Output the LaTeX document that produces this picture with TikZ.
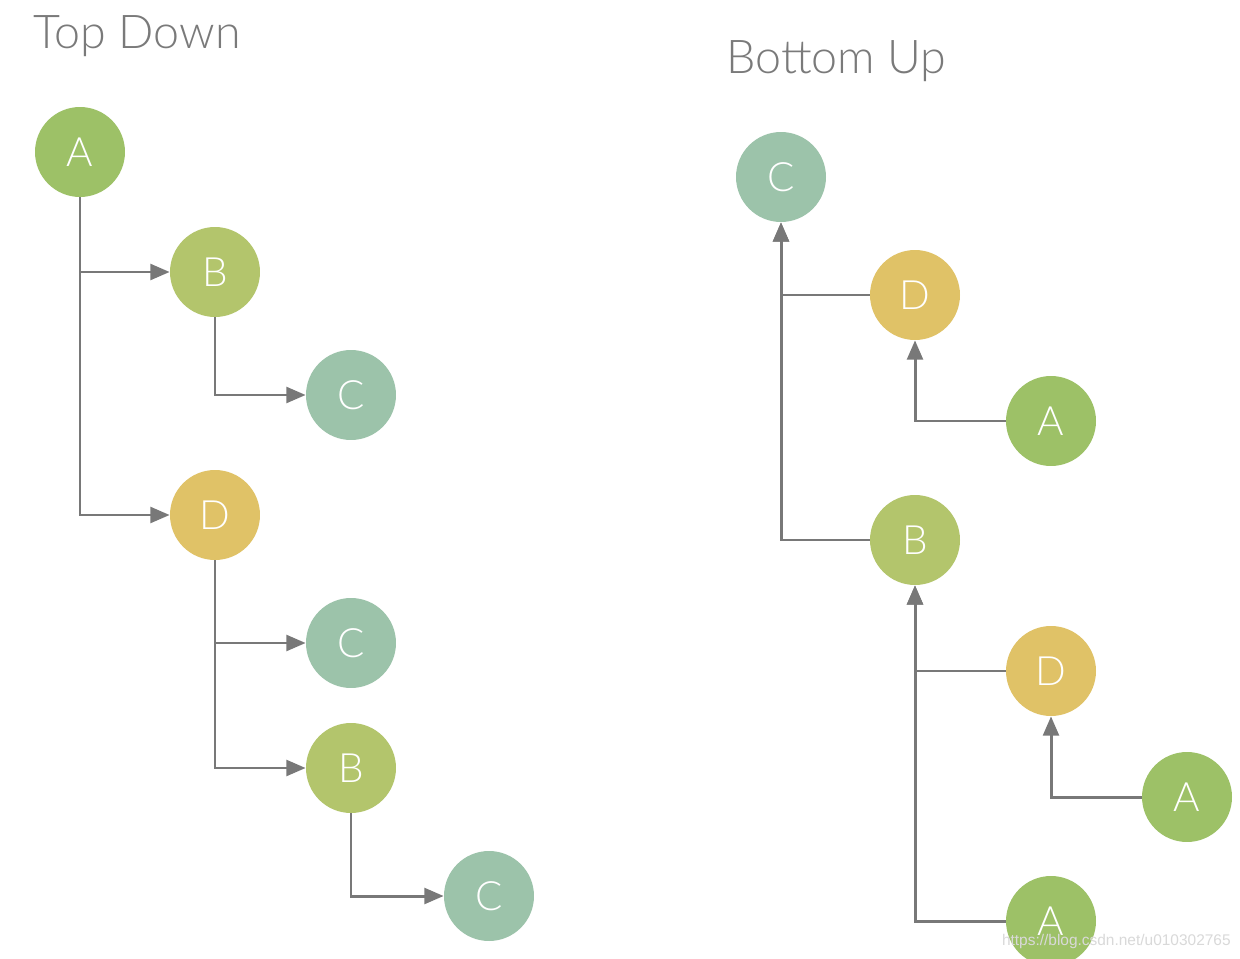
\documentclass[tikz,border=0pt]{standalone}
\usepackage{fontspec}
\setmainfont{Lato}[UprightFont=* Light]
\setsansfont{Liberation Sans}
\usetikzlibrary{arrows.meta}

\definecolor{colA}{HTML}{9DC167}
\definecolor{colB}{HTML}{B3C56C}
\definecolor{colC}{HTML}{9CC3AA}
\definecolor{colD}{HTML}{E0C267}
\definecolor{wire}{HTML}{787878}
\definecolor{heading}{HTML}{7A7A7A}

\begin{document}
\begin{tikzpicture}[x=0.02cm,y=-0.02cm]
	\tikzstyle{ball}=[circle,minimum size=1.8cm,inner sep=0pt,text=white,font=\fontsize{23}{23}\selectfont]
	\tikzstyle{nA}=[ball,fill=colA]
	\tikzstyle{nB}=[ball,fill=colB]
	\tikzstyle{nC}=[ball,fill=colC]
	\tikzstyle{nD}=[ball,fill=colD]
	\tikzstyle{link}=[wire,line width=1.7pt,-{Triangle[length=11pt,width=9pt]}]
	\tikzstyle{title}=[heading,anchor=base west,inner sep=0pt,font=\fontsize{26.5}{26.5}\selectfont]
	\useasboundingbox (0,0) rectangle (1240,959);
	\fill [white] (0,0) rectangle (1240,959);
	\begin{scope}
	\clip (0,0) rectangle (1240,959);
	% top down
	\node [title] (td) at (33,49) {Top Down};
	\node (a1) at (80,152) [nA] {A};
	\node (b1) at (215,272) [nB] {B};
	\node (c1) at (351,395) [nC] {C};
	\node (d1) at (215,515) [nD] {D};
	\node (c2) at (351,643) [nC] {C};
	\node (b2) at (351,768) [nB] {B};
	\node (c3) at (489,896) [nC] {C};
	\draw [link] (a1.south) |- (b1);
	\draw [link] (a1.south) |- (d1);
	\draw [link] (b1.south) |- (c1);
	\draw [link] (d1.south) |- (c2);
	\draw [link] (d1.south) |- (b2);
	\draw [link] (b2.south) |- (c3);
	% bottom up
	\node [title] (bu) at (726,74) {Bottom Up};
	\node (cr) at (781,177) [nC] {C};
	\node (dr1) at (915,295) [nD] {D};
	\node (ar1) at (1051,421) [nA] {A};
	\node (br) at (915,540) [nB] {B};
	\node (dr2) at (1051,671) [nD] {D};
	\node (ar2) at (1187,797) [nA] {A};
	\node (ar3) at (1051,921) [nA] {A};
	\draw [link] (dr1) -| (cr.south);
	\draw [link] (br) -| (cr.south);
	\draw [link] (ar1) -| (dr1.south);
	\draw [link] (dr2) -| (br.south);
	\draw [link] (ar3) -| (br.south);
	\draw [link] (ar2) -| (dr2.south);
	\node [anchor=base east,inner sep=0pt,text=white!85!black,font=\sffamily\fontsize{8.8}{8.8}\selectfont] (url) at (1231,945) {https://blog.csdn.net/u010302765};
	\end{scope}
\end{tikzpicture}
\end{document}
